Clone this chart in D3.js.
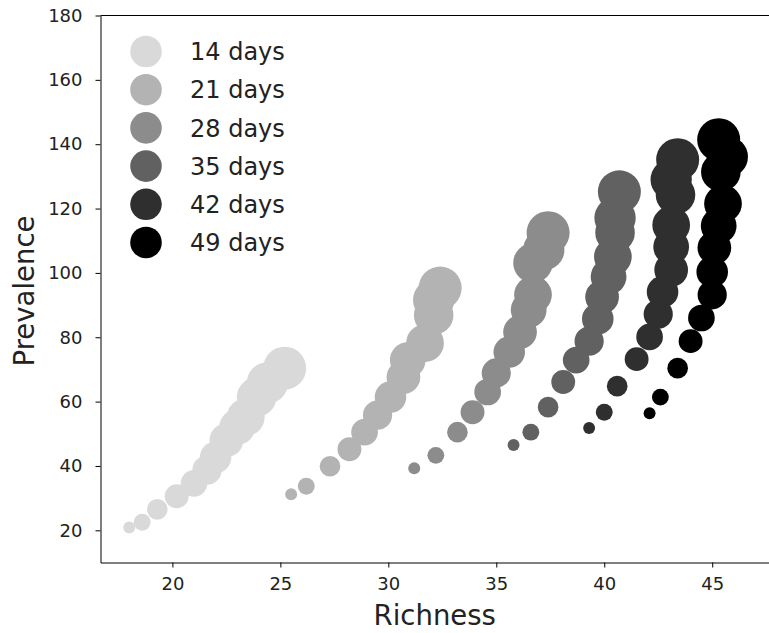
<!DOCTYPE html>
<html>
<head>
<meta charset="utf-8">
<script src="https://cdn.jsdelivr.net/npm/d3@7"></script>
<style>
  html, body { margin: 0; padding: 0; background: #fff; }
  svg { display: block; font-family: "DejaVu Sans", sans-serif; }
</style>
</head>
<body>
<svg id="chart" width="769" height="633"></svg>
<script>
// Sampling period of each series
const days = [14, 21, 28, 35, 42, 49];
const seriesLabels = days.map(d => d + " days");
const seriesColors = ["#d9d9d9", "#b3b3b3", "#8c8c8c", "#616161", "#2f2f2f", "#000000"];

// Sampling effort step of each point (encoded as marker area)
const effort = [1, 2, 3, 4, 5, 6, 7, 8, 9, 10, 11, 12, 13];

// Richness (x) per series, one value per effort step
const richness14 = [18.0, 18.6, 19.3, 20.2, 21.0, 21.6, 22.0, 22.5, 23.0, 23.4, 23.9, 24.4, 25.2];
const richness21 = [25.5, 26.2, 27.3, 28.2, 28.9, 29.5, 30.1, 30.7, 30.9, 31.7, 32.1, 32.1, 32.4];
const richness28 = [31.2, 32.2, 33.2, 33.9, 34.6, 35.0, 35.6, 36.1, 36.5, 36.7, 36.7, 37.2, 37.4];
const richness35 = [35.8, 36.6, 37.4, 38.1, 38.7, 39.3, 39.7, 39.9, 40.2, 40.4, 40.5, 40.5, 40.7];
const richness42 = [39.3, 40.0, 40.6, 41.5, 42.1, 42.5, 42.7, 43.1, 43.1, 43.1, 43.3, 43.1, 43.4];
const richness49 = [42.1, 42.6, 43.4, 44.0, 44.5, 45.0, 45.0, 45.1, 45.3, 45.5, 45.4, 45.7, 45.3];

// Prevalence (y) per series, one value per effort step
const prevalence14 = [20.9, 22.5, 26.5, 30.6, 34.6, 38.7, 42.7, 48.0, 52.1, 55.2, 61.4, 65.8, 70.4];
const prevalence21 = [31.2, 33.7, 39.9, 45.2, 50.5, 55.8, 61.4, 67.6, 72.9, 78.2, 86.9, 91.6, 95.3];
const prevalence28 = [39.3, 43.3, 50.5, 56.7, 63.0, 68.9, 75.4, 81.6, 88.5, 93.2, 103.1, 107.2, 112.5];
const prevalence35 = [46.5, 50.5, 58.3, 66.1, 72.9, 78.8, 85.7, 92.5, 98.8, 105.0, 112.5, 117.1, 125.2];
const prevalence42 = [51.8, 56.7, 64.8, 73.2, 80.1, 87.2, 94.1, 100.9, 108.1, 114.9, 124.3, 129.0, 135.2];
const prevalence49 = [56.4, 61.4, 70.4, 78.8, 86.0, 93.2, 100.3, 107.8, 114.6, 121.5, 131.4, 136.1, 141.4];

// Axis ticks
const xTicks = [20, 25, 30, 35, 40, 45];
const yTicks = [20, 40, 60, 80, 100, 120, 140, 160, 180];

const richnessBySeries = [richness14, richness21, richness28, richness35, richness42, richness49];
const prevalenceBySeries = [prevalence14, prevalence21, prevalence28, prevalence35, prevalence42, prevalence49];

const series = days.map((d, i) => ({
  label: seriesLabels[i],
  color: seriesColors[i],
  points: effort.map((e, j) => ({ x: richnessBySeries[i][j], y: prevalenceBySeries[i][j], e }))
}));

const margin = { left: 100.5, right: -1.5, top: 15.5, bottom: 70.5 };
const width = 769, height = 633;
const svg = d3.select("#chart");

const x = d3.scaleLinear().domain([16.67, 47.7]).range([margin.left, width - margin.right]);
const y = d3.scaleLinear().domain([10, 180]).range([height - margin.bottom, margin.top]);
const r = d3.scaleSqrt().domain([0, d3.max(effort)]).range([0, 21.5]);

// Points: each series in turn, with markers sized by effort
const plot = svg.append("g");
series.forEach(s => {
  plot.append("g")
    .selectAll("circle")
    .data(s.points)
    .join("circle")
    .attr("cx", d => x(d.x))
    .attr("cy", d => y(d.y))
    .attr("r", d => r(d.e))
    .attr("fill", s.color);
});

// Frame
const frame = svg.append("g").attr("fill", "none").attr("stroke", "#000").attr("stroke-width", 1);
frame.append("line").attr("x1", x.range()[0]).attr("x2", x.range()[1]).attr("y1", y.range()[1]).attr("y2", y.range()[1]);
frame.append("line").attr("x1", x.range()[1]).attr("x2", x.range()[1]).attr("y1", y.range()[0]).attr("y2", y.range()[1]);

// Axes
const xAxis = svg.append("g")
  .attr("transform", `translate(0,${y.range()[0]})`)
  .call(d3.axisBottom(x).tickValues(xTicks).tickSize(5).tickSizeOuter(0).tickPadding(10));
const yAxis = svg.append("g")
  .attr("transform", `translate(${x.range()[0]},0)`)
  .call(d3.axisLeft(y).tickValues(yTicks).tickSize(5).tickSizeOuter(0).tickPadding(13));

[xAxis, yAxis].forEach(a => {
  a.select(".domain").attr("stroke", "#000");
  a.selectAll(".tick line").attr("stroke", "#000");
  a.selectAll(".tick text")
    .attr("fill", "#222")
    .style("font-family", "DejaVu Sans")
    .style("font-size", "18px");
});

// Axis titles
svg.append("text")
  .attr("x", (x.range()[0] + 769) / 2)
  .attr("y", 625)
  .attr("text-anchor", "middle")
  .attr("fill", "#222")
  .style("font-size", "27.5px")
  .text("Richness");

svg.append("text")
  .attr("transform", `translate(34,291) rotate(-90)`)
  .attr("text-anchor", "middle")
  .attr("fill", "#222")
  .style("font-size", "27.5px")
  .text("Prevalence");

// Legend: one mid-size marker per series
const legendR = Math.sqrt((r(d3.min(effort)) ** 2 + r(d3.max(effort)) ** 2) / 2);
const legend = svg.append("g");
const legendRow = legend.selectAll("g")
  .data(series)
  .join("g")
  .attr("transform", (d, i) => `translate(146,${51.5 + i * 38.2})`);
legendRow.append("circle").attr("r", legendR).attr("fill", d => d.color);
legendRow.append("text")
  .attr("x", 44)
  .attr("dy", "0.36em")
  .attr("fill", "#222")
  .style("font-size", "24px")
  .text(d => d.label);
</script>
</body>
</html>
